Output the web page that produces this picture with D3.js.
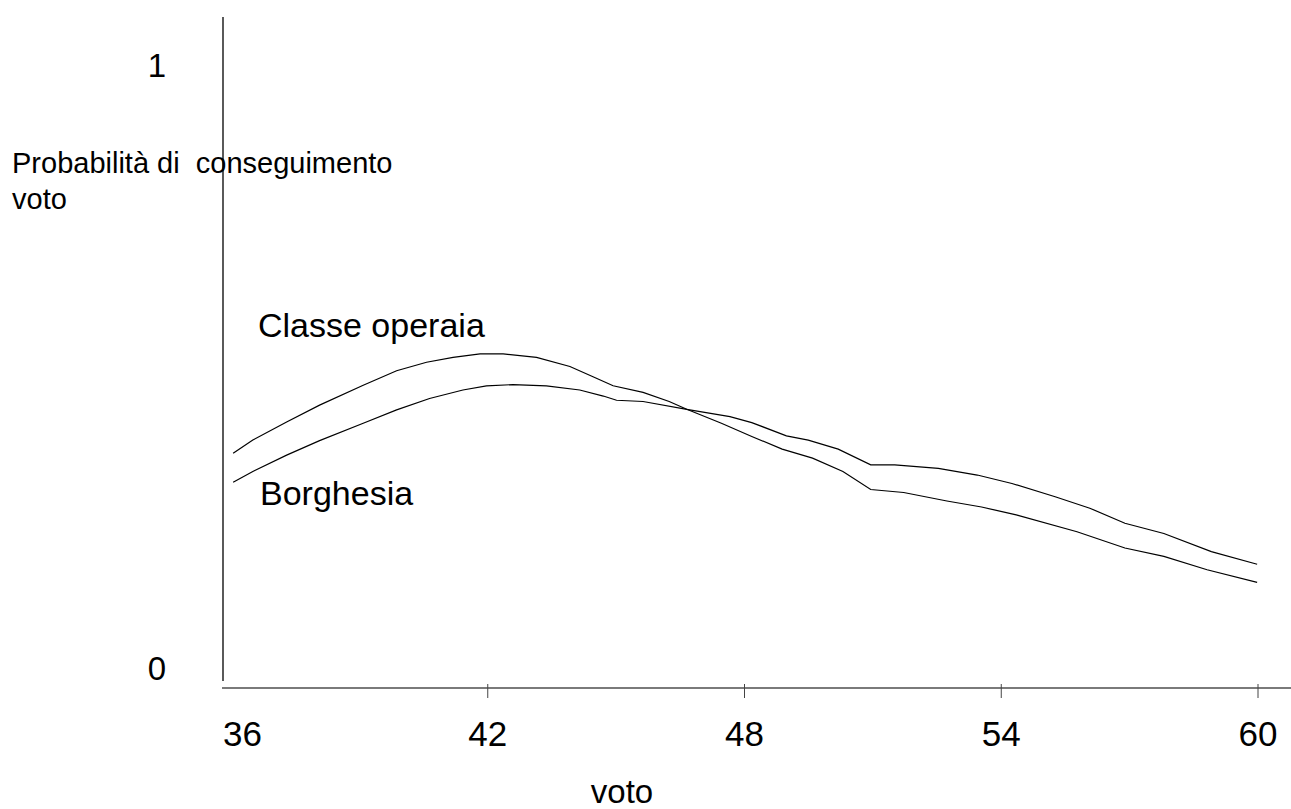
<!DOCTYPE html>
<html>
<head>
<meta charset="utf-8">
<script src="https://cdn.jsdelivr.net/npm/d3@7"></script>
<style>
  html, body { margin: 0; padding: 0; background: #fff; }
  svg { display: block; }
  text { font-family: "Liberation Sans", Arial, Helvetica, sans-serif; fill: #000; white-space: pre; }
</style>
</head>
<body>
<svg id="chart" width="1291" height="809"></svg>
<script>
// ---- data ----
const xTicks = [36, 42, 48, 54, 60];
const yTicks = [0, 1];
const xTitle = "voto";
const yTitleLines = ["Probabilità di  conseguimento", "voto"];
const seriesNames = ["Classe operaia", "Borghesia"];

const operaiaVoto = [36.05, 36.51, 37.30, 38.07, 39.09, 39.87, 40.57, 41.19, 41.82, 42.36, 43.14, 43.92, 44.46, 44.93, 45.63, 46.24, 46.65, 47.46, 48.17, 48.88, 49.59, 50.30, 50.95, 51.72, 52.73, 53.54, 54.35, 55.77, 56.89, 57.80, 58.81, 59.98];
const operaiaProb = [0.356, 0.378, 0.408, 0.436, 0.469, 0.493, 0.507, 0.515, 0.521, 0.521, 0.515, 0.500, 0.483, 0.468, 0.457, 0.442, 0.429, 0.406, 0.384, 0.363, 0.348, 0.326, 0.296, 0.291, 0.277, 0.267, 0.254, 0.226, 0.199, 0.185, 0.163, 0.142];

const borghesiaVoto = [36.05, 36.51, 37.30, 38.07, 39.09, 39.87, 40.64, 41.42, 41.97, 42.59, 43.37, 44.15, 44.70, 45.01, 45.63, 46.65, 47.66, 48.17, 48.98, 49.49, 50.19, 50.95, 51.51, 52.53, 53.44, 54.25, 55.26, 56.07, 56.89, 57.80, 58.91, 59.98];
const borghesiaProb = [0.308, 0.326, 0.353, 0.377, 0.406, 0.428, 0.447, 0.461, 0.468, 0.470, 0.468, 0.461, 0.451, 0.444, 0.442, 0.429, 0.417, 0.407, 0.385, 0.378, 0.363, 0.337, 0.337, 0.331, 0.320, 0.306, 0.284, 0.265, 0.240, 0.223, 0.193, 0.172];

// ---- drawing ----
const svg = d3.select("#chart");
const x = d3.scaleLinear().domain([36, 60]).range([231, 1258]);
const y = d3.scaleLinear().domain([0, 1]).range([668, 65]);

const axisY = 688;      // horizontal axis line position
const vAxisX = 223;     // vertical axis line position

// vertical axis line
svg.append("line")
  .attr("x1", vAxisX).attr("x2", vAxisX)
  .attr("y1", 17).attr("y2", 681)
  .attr("stroke", "#000").attr("stroke-width", 1.3);

// horizontal axis line
svg.append("line")
  .attr("x1", 222).attr("x2", 1291)
  .attr("y1", axisY).attr("y2", axisY)
  .attr("stroke", "#7a7a7a").attr("stroke-width", 2);

// x ticks (not at 36)
svg.selectAll("line.xtick").data(xTicks.filter(d => d !== 36)).enter()
  .append("line").attr("class", "xtick")
  .attr("x1", d => x(d)).attr("x2", d => x(d))
  .attr("y1", axisY - 4).attr("y2", axisY + 10)
  .attr("stroke", "#444").attr("stroke-width", 1);

// x tick labels
svg.selectAll("text.xlab").data(xTicks).enter()
  .append("text").attr("class", "xlab")
  .attr("x", d => d === 36 ? vAxisX : x(d))
  .attr("y", 746)
  .attr("text-anchor", d => d === 36 ? "start" : "middle")
  .attr("font-size", 35)
  .text(d => d);

// y tick labels
svg.selectAll("text.ylab").data(yTicks).enter()
  .append("text").attr("class", "ylab")
  .attr("x", 157)
  .attr("y", d => y(d) + 12)
  .attr("text-anchor", "middle")
  .attr("font-size", 33)
  .text(d => d);

// x title
svg.append("text")
  .attr("x", 622).attr("y", 803)
  .attr("text-anchor", "middle")
  .attr("font-size", 33)
  .text(xTitle);

// y title (two lines)
svg.selectAll("text.ytitle").data(yTitleLines).enter()
  .append("text").attr("class", "ytitle")
  .attr("x", 12)
  .attr("y", (d, i) => 173 + i * 36)
  .attr("font-size", 29)
  .text(d => d);

// series
const line = d3.line().x(d => x(d[0])).y(d => y(d[1]));
const series = [
  { name: seriesNames[0], pts: d3.zip(operaiaVoto, operaiaProb), lx: 258, ly: 337 },
  { name: seriesNames[1], pts: d3.zip(borghesiaVoto, borghesiaProb), lx: 260, ly: 505 }
];
svg.selectAll("path.series").data(series).enter()
  .append("path").attr("class", "series")
  .attr("d", d => line(d.pts))
  .attr("fill", "none")
  .attr("stroke", "#000")
  .attr("stroke-width", 1.2);

svg.selectAll("text.slab").data(series).enter()
  .append("text").attr("class", "slab")
  .attr("x", d => d.lx).attr("y", d => d.ly)
  .attr("font-size", 34)
  .text(d => d.name);
</script>
</body>
</html>
